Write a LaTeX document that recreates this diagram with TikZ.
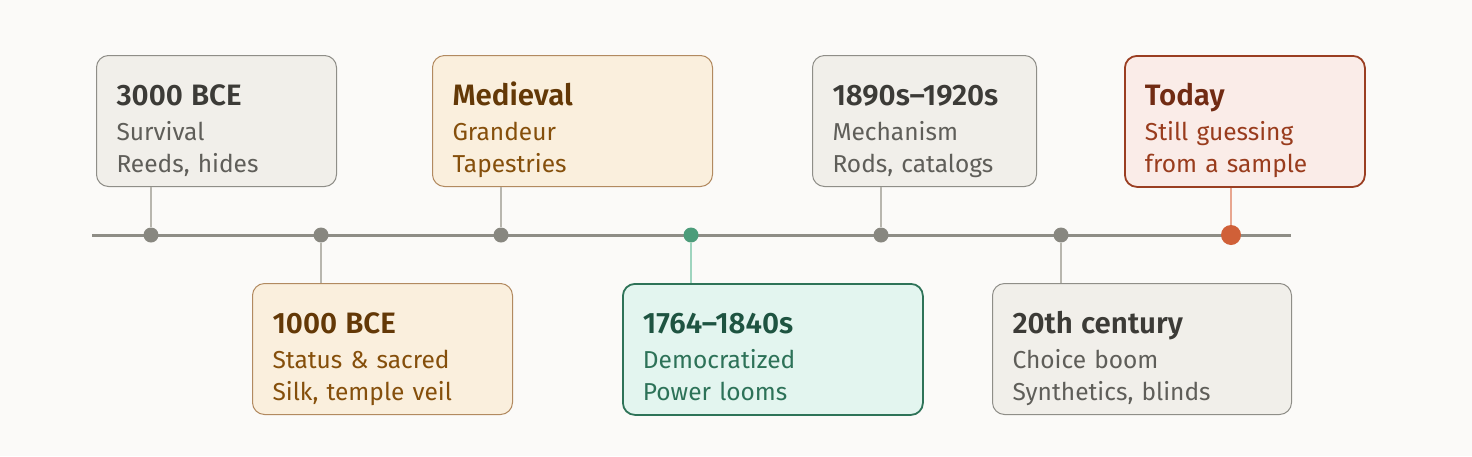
\documentclass[tikz,border=0pt]{standalone}
\usepackage{fontspec}
\setmainfont{Fira Sans}[BoldFont={Fira Sans SemiBold}]
\usetikzlibrary{positioning}

\definecolor{bg}{HTML}{FBFAF8}
\definecolor{axisgray}{HTML}{8E8D86}
\definecolor{stemgray}{HTML}{B8B6AE}
\definecolor{dotgray}{HTML}{888780}
% card themes
\definecolor{grayfill}{HTML}{F1EFEA}
\definecolor{grayline}{HTML}{8F8E88}
\definecolor{graytitle}{HTML}{3C3B37}
\definecolor{graybody}{HTML}{5F5E59}
\definecolor{tanfill}{HTML}{FAEFDD}
\definecolor{tanline}{HTML}{B28A60}
\definecolor{tantitle}{HTML}{633806}
\definecolor{tanbody}{HTML}{854F0B}
\definecolor{greenfill}{HTML}{E3F5EF}
\definecolor{greenline}{HTML}{2E7358}
\definecolor{greentitle}{HTML}{1E5441}
\definecolor{greenbody}{HTML}{2D7258}
\definecolor{greendot}{HTML}{4C9C7A}
\definecolor{greenstem}{HTML}{9ED4BE}
\definecolor{redfill}{HTML}{FAECE8}
\definecolor{redline}{HTML}{9A3E22}
\definecolor{redtitle}{HTML}{712B13}
\definecolor{redbody}{HTML}{993C1D}
\definecolor{reddot}{HTML}{D06038}
\definecolor{redstem}{HTML}{E8A68F}

% title, then two lines
\newcommand{\evt}[4]{{\fontsize{29.5}{32}\selectfont\bfseries\color{#1title}\rule{0pt}{50pt}#2}\\[3pt]%
  {\color{#1body}#3}\\{\color{#1body}#4\rule[-14pt]{0pt}{14pt}}}

\begin{document}
\begin{tikzpicture}[
        x = 1pt, y = -1pt,
        card/.style = {rectangle, rounded corners=12pt, anchor=north west, align=left,
            inner xsep=20pt, inner ysep=0pt, text width=#1,
            font=\fontsize{24.5}{32}\selectfont},
        graycard/.style = {card=#1, fill=grayfill, draw=grayline, line width=1pt},
        tancard/.style = {card=#1, fill=tanfill, draw=tanline, line width=1pt},
        greencard/.style = {card=#1, fill=greenfill, draw=greenline, line width=1.8pt},
        redcard/.style = {card=#1, fill=redfill, draw=redline, line width=1.8pt},
        dot/.style = {circle, inner sep=0pt, minimum size=15pt, fill=dotgray},
        stem/.style = {line width=1.5pt, stemgray}
    ]
        \fill[bg] (0,0) rectangle (1472,456);
        \useasboundingbox (0,0) rectangle (1472,456);

        % Axis
        \coordinate (start) at (92,235);
        \coordinate (end) at (1291,235);
        \draw[line width=3pt, axisgray] (start) -- (end);

        % Dots
        \node[dot] (d1) at (151,235) {};
        \node[dot] (d2) at (321,235) {};
        \node[dot] (d3) at (501,235) {};
        \node[dot, fill=greendot] (d4) at (691,235) {};
        \node[dot] (d5) at (881,235) {};
        \node[dot] (d6) at (1061,235) {};
        \node[dot, minimum size=20pt, fill=reddot] (d7) at (1231,235) {};

        % Cards above
        \node[graycard=200pt] (c1) at (96,55) {\evt{gray}{3000 BCE}{Survival}{Reeds, hides}};
        \node[tancard=240pt] (c3) at (432,55) {\evt{tan}{Medieval}{Grandeur}{Tapestries}};
        \node[graycard=184pt] (c5) at (812,55) {\evt{gray}{1890s–1920s}{Mechanism}{Rods, catalogs}};
        \node[redcard=200pt] (c7) at (1124,55) {\evt{red}{Today}{Still guessing}{from a sample}};

        % Cards below
        \node[tancard=220pt] (c2) at (252,283) {\evt{tan}{1000 BCE}{Status \& sacred}{Silk, temple veil}};
        \node[greencard=260pt] (c4) at (622,283) {\evt{green}{1764–1840s}{Democratized}{Power looms}};
        \node[graycard=259pt] (c6) at (992,283) {\evt{gray}{20th century}{Choice boom}{Synthetics, blinds}};

        % Stems
        \draw[stem] (c1.south -| d1) -- (d1.north);
        \draw[stem] (c3.south -| d3) -- (d3.north);
        \draw[stem] (c5.south -| d5) -- (d5.north);
        \draw[stem, redstem] (c7.south -| d7) -- (d7.north);
        \draw[stem] (d2.south) -- (c2.north -| d2);
        \draw[stem, greenstem] (d4.south) -- (c4.north -| d4);
        \draw[stem] (d6.south) -- (c6.north -| d6);
    \end{tikzpicture}
\end{document}
